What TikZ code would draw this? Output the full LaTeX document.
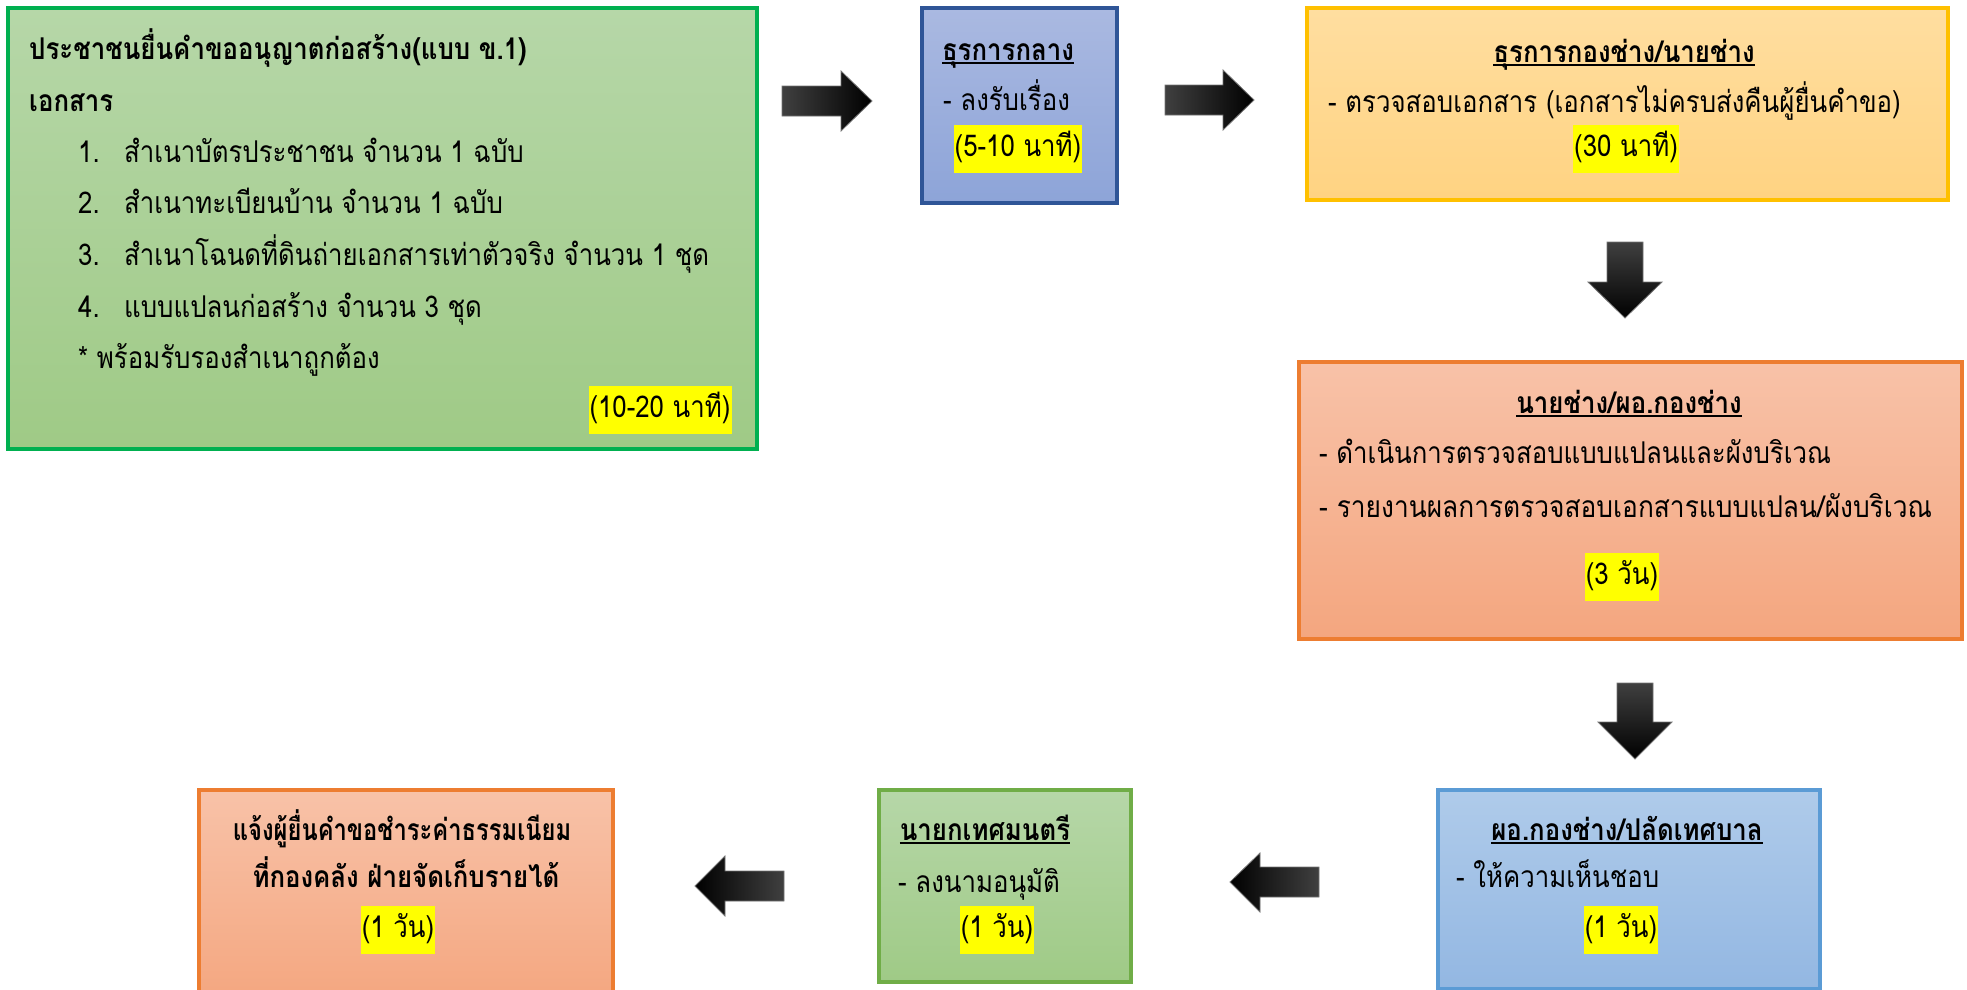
\documentclass[tikz,border=0pt]{standalone}
\usepackage{fontspec}
\setmainfont[Script=Thai,FakeStretch=0.86]{Loma}
\newcommand\ulx[1]{\setbox0\hbox{#1}\rlap{\rule[-4pt]{\wd0}{1.6pt}}\box0}
\definecolor{gA}{HTML}{00B050}
\definecolor{gTop}{HTML}{B6D7A8}
\definecolor{gBot}{HTML}{9FCA86}
\definecolor{bA}{HTML}{2F5597}
\definecolor{bTop}{HTML}{AAB9E1}
\definecolor{bBot}{HTML}{8DA4D8}
\definecolor{yA}{HTML}{FFC000}
\definecolor{yTop}{HTML}{FFDEA0}
\definecolor{yBot}{HTML}{FFD382}
\definecolor{oA}{HTML}{ED7D31}
\definecolor{oTop}{HTML}{F8C2A8}
\definecolor{oBot}{HTML}{F4A67F}
\definecolor{lA}{HTML}{5B9BD5}
\definecolor{lTop}{HTML}{AFCBEA}
\definecolor{lBot}{HTML}{93B7E2}
\definecolor{g2A}{HTML}{70AD47}
\definecolor{hlY}{HTML}{FFFF00}
\begin{document}
\begin{tikzpicture}[x=1pt,y=-1pt,
  box/.style={line width=4pt, inner sep=0pt, anchor=north west},
  tx/.style={inner sep=0pt, font=\fontsize{30}{36}\selectfont},
  bx/.style={tx, font=\fontsize{30}{36}\selectfont\bfseries},
  hl/.style={fill=hlY, inner xsep=1pt, inner ysep=0pt, minimum height=48pt,
    text height=22pt, text depth=7pt, font=\fontsize{30}{36}\selectfont},
  barrow/.style={draw=black!55, line width=0.8pt}
]
\useasboundingbox (0,0) rectangle (1967,989);
\clip (0,0) rectangle (1967,989);

% boxes
\node[box, draw=gA, top color=gTop, bottom color=gBot, minimum width=749pt, minimum height=441pt] (b1) at (6,6) {};
\node[box, draw=bA, top color=bTop, bottom color=bBot, minimum width=195pt, minimum height=195pt] (b2) at (920,6) {};
\node[box, draw=yA, top color=yTop, bottom color=yBot, minimum width=641pt, minimum height=192pt] (b3) at (1305,6) {};
\node[box, draw=oA, top color=oTop, bottom color=oBot, minimum width=663pt, minimum height=277pt] (b4) at (1297,360) {};
\node[box, draw=lA, top color=lTop, bottom color=lBot, minimum width=382pt, minimum height=199pt] (b5) at (1436,788) {};
\node[box, draw=g2A, top color=gTop, bottom color=gBot, minimum width=252pt, minimum height=192pt] (b6) at (877,788) {};
\node[box, draw=oA, top color=oTop, bottom color=oBot, minimum width=414pt, minimum height=215pt] (b7) at (197,788) {};

% block arrows
\shadedraw[barrow, left color=black!75, middle color=black, right color=black]
  (782,86) -- (841,86) -- (841,71) -- (872,101) -- (841,131) -- (841,116) -- (782,116) -- cycle;
\shadedraw[barrow, left color=black!75, middle color=black, right color=black]
  (1165,85) -- (1223,85) -- (1223,70) -- (1254,100) -- (1223,130) -- (1223,115) -- (1165,115) -- cycle;
\shadedraw[barrow, top color=black!75, middle color=black, bottom color=black]
  (1607,242) -- (1643,242) -- (1643,282) -- (1662,282) -- (1625,318) -- (1588,282) -- (1607,282) -- cycle;
\shadedraw[barrow, top color=black!75, middle color=black, bottom color=black]
  (1617,683) -- (1653,683) -- (1653,722) -- (1672,722) -- (1635,759) -- (1598,722) -- (1617,722) -- cycle;
\shadedraw[barrow, left color=black, middle color=black, right color=black!75]
  (1319,867) -- (1260,867) -- (1260,853) -- (1230,882) -- (1260,912) -- (1260,897) -- (1319,897) -- cycle;
\shadedraw[barrow, left color=black, middle color=black, right color=black!75]
  (784,871) -- (725,871) -- (725,856) -- (695,886) -- (725,916) -- (725,901) -- (784,901) -- cycle;

% box 1 text
\node[bx, anchor=base west] (t1a) at (29,59) {ประชาชนยื่นคำขออนุญาตก่อสร้าง(แบบ ข.1)};
\node[bx, anchor=base west] (t1b) at (29,111) {เอกสาร};
\node[tx, anchor=base west] (n1) at (78,162) {1.};
\node[tx, anchor=base west] (i1) at (124,162) {สำเนาบัตรประชาชน จำนวน 1 ฉบับ};
\node[tx, anchor=base west] (n2) at (78,213) {2.};
\node[tx, anchor=base west] (i2) at (124,213) {สำเนาทะเบียนบ้าน จำนวน 1 ฉบับ};
\node[tx, anchor=base west] (n3) at (78,265) {3.};
\node[tx, anchor=base west] (i3) at (124,265) {สำเนาโฉนดที่ดินถ่ายเอกสารเท่าตัวจริง จำนวน 1 ชุด};
\node[tx, anchor=base west] (n4) at (78,317) {4.};
\node[tx, anchor=base west] (i4) at (124,317) {แบบแปลนก่อสร้าง จำนวน 3 ชุด};
\node[tx, anchor=base west] (i5) at (78,368) {* พร้อมรับรองสำเนาถูกต้อง};
\node[hl] (h1) at (660,410) {(10-20 นาที)};

% box 2 text
\node[bx, anchor=base] (t2) at (1008,60) {\ulx{ธุรการกลาง}};
\node[tx, anchor=base west] (l2) at (943,110) {- ลงรับเรื่อง};
\node[hl] (h2) at (1018,149) {(5-10 นาที)};

% box 3 text
\node[bx, anchor=base] (t3) at (1624,62) {\ulx{ธุรการกองช่าง/นายช่าง}};
\node[tx, anchor=base west] (l3) at (1328,112) {- ตรวจสอบเอกสาร (เอกสารไม่ครบส่งคืนผู้ยื่นคำขอ)};
\node[hl] (h3) at (1626,149) {(30 นาที)};

% box 4 text
\node[bx, anchor=base] (t4) at (1629,413) {\ulx{นายช่าง/ผอ.กองช่าง}};
\node[tx, anchor=base west] (l4a) at (1319,463) {- ดำเนินการตรวจสอบแบบแปลนและผังบริเวณ};
\node[tx, anchor=base west] (l4b) at (1319,517) {\scalebox{1.02}[1]{- รายงานผลการตรวจสอบเอกสารแบบแปลน/ผังบริเวณ}};
\node[hl] (h4) at (1622,577) {(3 วัน)};

% box 5 text
\node[bx, anchor=base] (t5) at (1627,840) {\ulx{ผอ.กองช่าง/ปลัดเทศบาล}};
\node[tx, anchor=base west] (l5) at (1456,887) {- ให้ความเห็นชอบ};
\node[hl] (h5) at (1621,930) {(1 วัน)};

% box 6 text
\node[bx, anchor=base] (t6) at (985,840) {\ulx{นายกเทศมนตรี}};
\node[tx, anchor=base west] (l6) at (898,892) {- ลงนามอนุมัติ};
\node[hl] (h6) at (997,930) {(1 วัน)};

% box 7 text
\node[bx, anchor=base] (t7a) at (402,840) {\scalebox{0.92}[1]{แจ้งผู้ยื่นคำขอชำระค่าธรรมเนียม}};
\node[bx, anchor=base] (t7b) at (406,887) {ที่กองคลัง ฝ่ายจัดเก็บรายได้};
\node[hl] (h7) at (398,930) {(1 วัน)};
\end{tikzpicture}
\end{document}
